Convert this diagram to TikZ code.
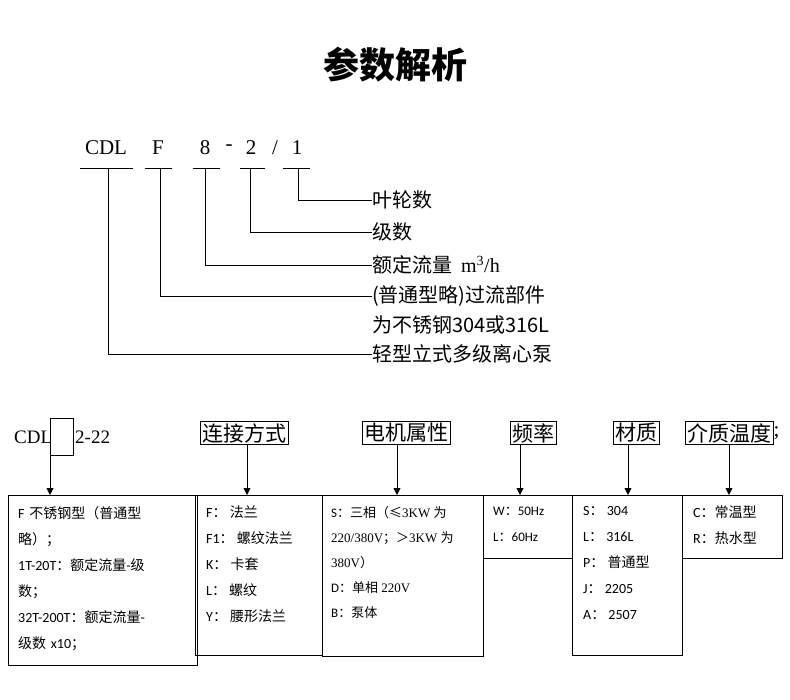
\documentclass[tikz,border=0pt]{standalone}
\usepackage{fontspec}
\setmainfont{Liberation Serif}
\newfontfamily\cjk{Noto Sans CJK SC}
\newfontfamily\boxfont{Carlito}
\usetikzlibrary{positioning,arrows.meta}
\newcommand{\zh}[1]{{\cjk #1}}

\begin{document}
\begin{tikzpicture}[x=1pt,y=-1pt,
    code/.style={font=\fontsize{21}{24}\selectfont, inner sep=0pt},
    lbl/.style={font=\cjk\fontsize{20}{24}\selectfont, anchor=west, inner sep=0pt},
    tag/.style={draw, thick, font=\cjk\fontsize{21}{24}\selectfont, inner sep=2pt},
    cell/.style={draw, thick},
    celltxt/.style={anchor=north west, align=left, inner sep=0pt, font=\boxfont\fontsize{14}{26}\selectfont},
    lead/.style={thick},
    pointer/.style={thick, -{Triangle[length=7pt,width=7pt]}}]
    \useasboundingbox (0,0) rectangle (790,700);

    % Title
    \node[font=\cjk\bfseries\fontsize{36}{40}\selectfont] (title) at (395,65) {参数解析};

    % Model code, top part
    \node[code] (cdl) at (106,148) {CDL};
    \node[code] (cf) at (158,148) {F};
    \node[code] (c8) at (205,148) {8};
    \node[code] (d1) at (229,148) {-};
    \node[code] (c2) at (251,148) {2};
    \node[code] (sl) at (275,148) {/};
    \node[code] (c1) at (297,148) {1};
    \foreach \a/\b in {80/133,145/172,193/220,240/265,283/310}
        \draw[lead] (\a,168) -- (\b,168);

    \coordinate (uc1) at (298,168);
    \coordinate (uc2) at (250,168);
    \coordinate (uc8) at (205,168);
    \coordinate (ucf) at (160,168);
    \coordinate (ucdl) at (108,168);

    \node[lbl] (l1) at (372,200) {叶轮数};
    \node[lbl] (l2) at (372,232) {级数};
    \node[lbl] (l3) at (372,265) {额定流量\ \ {\rmfamily m\textsuperscript{3}/h}};
    \node[lbl] (l4) at (372,296) {(普通型略)过流部件};
    \node[lbl] (l5) at (372,325) {为不锈钢304或316L};
    \node[lbl] (l6) at (372,354) {轻型立式多级离心泵};

    \draw[lead] (uc1) |- (l1.west);
    \draw[lead] (uc2) |- (l2.west);
    \draw[lead] (uc8) |- (l3.west);
    \draw[lead] (ucf) |- (l4.west);
    \draw[lead] (ucdl) |- (l6.west);

    % Model code, bottom part
    \node[code, font=\fontsize{19}{22}\selectfont, anchor=west] (bcdl) at (14,437) {CDL};
    \node[draw, thick, minimum width=23pt, minimum height=37pt, inner sep=0pt] (slot) at (61.5,436.5) {};
    \node[code, font=\fontsize{19}{22}\selectfont, anchor=west] (b222) at (75,437) {2-22};

    \node[tag] (t1) at (244,433) {连接方式};
    \node[tag] (t2) at (406,433) {电机属性};
    \node[tag] (t3) at (533,433) {频率};
    \node[tag] (t4) at (636,433) {材质};
    \node[tag] (t5) at (729,433) {介质温度};
    \node[code, anchor=west] (semi) at (t5.east) {;};

    % Cells
    \draw[cell] (8,495) rectangle (197,665);
    \draw[cell] (195,495) rectangle (322,655);
    \draw[cell] (322,495) rectangle (483,656);
    \draw[cell] (483,495) rectangle (572,558);
    \draw[cell] (572,495) rectangle (682,655);
    \draw[cell] (682,495) rectangle (782,558);

    \coordinate (p0) at (50,495);
    \coordinate (p1) at (247,495);
    \coordinate (p2) at (397,495);
    \coordinate (p3) at (520,495);
    \coordinate (p4) at (628,495);
    \coordinate (p5) at (729,495);
    \draw[pointer] (slot.south -| p0) -- (p0);
    \draw[pointer] (t1.south -| p1) -- (p1);
    \draw[pointer] (t2.south -| p2) -- (p2);
    \draw[pointer] (t3.south -| p3) -- (p3);
    \draw[pointer] (t4.south -| p4) -- (p4);
    \draw[pointer] (t5.south -| p5) -- (p5);

    \node[celltxt, text width=170pt] (x1) at (18,506) {F \zh{不锈钢型（普通型}\\ \zh{略）；}\\ 1T-20T\zh{：额定流量}-\zh{级}\\ \zh{数；}\\ 32T-200T\zh{：额定流量}-\\ \zh{级数} x10\zh{；}};
    \node[celltxt] (x2) at (206,506) {F\zh{：\ 法兰}\\ F1\zh{：\ 螺纹法兰}\\ K\zh{：\ 卡套}\\ L\zh{：\ 螺纹}\\ Y\zh{：\ 腰形法兰}};
    \node[celltxt, font=\rmfamily\fontsize{13}{25}\selectfont] (x3) at (331,506) {{\boxfont S}\zh{：三相（≤}3KW \zh{为}\\ 220/380V\zh{；＞}3KW \zh{为}\\ 380V\zh{）}\\ {\boxfont D}\zh{：单相} 220V\\ {\boxfont B}\zh{：泵体}};
    \node[celltxt, font=\boxfont\fontsize{13}{26}\selectfont] (x4) at (493,507) {W\zh{：}50Hz\\ L\zh{：}60Hz};
    \node[celltxt] (x5) at (583,506) {S\zh{：}\ 304\\ L\zh{：}\ 316L\\ P\zh{：\ 普通型}\\ J\zh{：}\ 2205\\ A\zh{：}\ 2507};
    \node[celltxt] (x6) at (693,506) {C\zh{：常温型}\\ R\zh{：热水型}};
\end{tikzpicture}
\end{document}
